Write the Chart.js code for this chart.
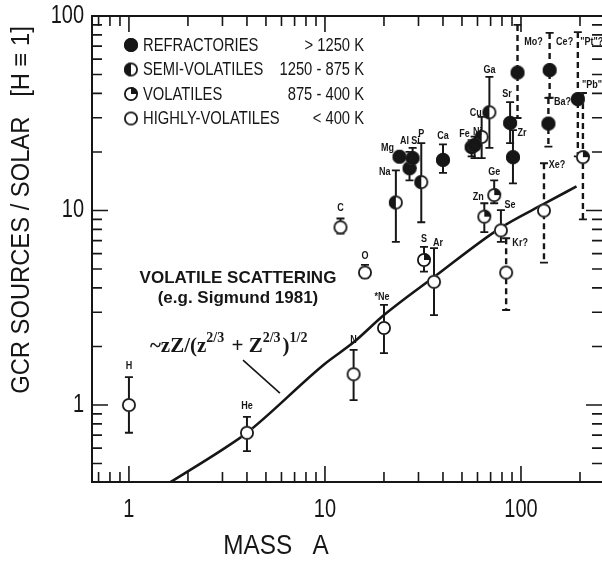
<!DOCTYPE html>
<html>
<head>
<meta charset="utf-8">
<script src="https://cdn.jsdelivr.net/npm/chart.js@4.4.0/dist/chart.umd.min.js"></script>
<style>
  html, body { margin: 0; padding: 0; background: #fff; }
  #wrap { width: 602px; height: 561px; }
</style>
</head>
<body>
<div id="wrap"><canvas id="chart"></canvas></div>
<script>
// element abundances, GCR sources / solar (H = 1)
const elements = ['H', 'He', 'C', 'N', 'O', '*Ne', 'Na', 'Mg', 'Al', 'Si', 'P', 'S', 'Ar', 'Ca', 'Fe', 'Ni',
                  'Cu', 'Zn', 'Ga', 'Ge', 'Se', 'Kr?', 'Sr', 'Zr', 'Mo?', 'Xe?', 'Ba?', 'Ce?', '"Pt"?', '"Pb"'];
const mass     = [1, 4, 12, 14, 16, 20, 23, 24, 27, 28, 31, 32, 36, 40, 56, 58,
                  63, 65, 69, 73, 79, 84, 88, 91, 96, 131, 138, 140, 195, 207];
const ratio    = [1.0, 0.72, 8.2, 1.44, 4.8, 2.49, 11.0, 18.9, 16.5, 18.6, 14.0, 5.57, 4.3, 18.2, 21.2, 21.7,
                  23.9, 9.3, 32, 12.0, 7.9, 4.8, 28.2, 18.8, 51.2, 10.0, 28.0, 52.7, 37.4, 18.8];
const errLow   = [0.72, 0.58, 7.6, 1.06, 4.5, 1.85, 6.9, null, 14.3, 16.5, 8.7, 4.85, 2.9, 15.6, 19.0, 18.6,
                  18.6, 7.75, 21.0, 10.9, 6.9, 3.08, 22.2, 13.8, 29.9, 5.4, 21.3, 38.0, 19.0, 9.0];
const errHigh  = [1.39, 0.87, 9.1, 1.92, 5.25, 3.27, 16.1, null, 20.0, 21.0, 22.2, 6.5, 6.4, 21.9, 23.0, 24.0,
                  30.3, 10.9, 48.6, 14.3, 10.05, 7.2, 36.1, 25.9, 90, 17.5, 37.9, 81.8, 82.7, 40.2];
// 0 refractory, 1 semi-volatile, 2 volatile, 3 highly volatile
const volClass = [3, 3, 3, 3, 3, 3, 1, 0, 0, 0, 1, 2, 3, 0, 0, 0,
                  1, 2, 1, 2, 3, 3, 0, 0, 0, 3, 0, 0, 0, 2];
const uncertain = ['Kr?', 'Mo?', 'Xe?', 'Ba?', 'Ce?', '"Pt"?', '"Pb"'];

const classNames  = ['REFRACTORIES', 'SEMI-VOLATILES', 'VOLATILES', 'HIGHLY-VOLATILES'];
const classRanges = ['> 1250 K', '1250 - 875 K', '875 - 400 K', '< 400 K'];

// volatile scattering curve
const curveMass  = [1.62, 3, 4, 10, 14, 20, 36, 78, 133, 192];
const curveRatio = [0.40, 0.59, 0.72, 1.63, 2.1, 2.9, 4.55, 8.1, 10.9, 13.3];

// axes
const xMin = 0.648, xMax = 259;
const yMin = 0.402, yMax = 100;
const xMajor = [1, 10, 100];
const xMinor = [0.7, 0.8, 0.9, 2, 3, 4, 5, 6, 7, 8, 9, 20, 30, 40, 50, 60, 70, 80, 90, 200];
const yMajor = [1, 10, 100];
const yMinor = [0.5, 0.6, 0.7, 0.8, 0.9, 2, 3, 4, 5, 6, 7, 8, 9, 20, 30, 40, 50, 60, 70, 80, 90];
const xTickLabels = ['1', '10', '100'];
const yTickLabels = ['1', '10', '100'];

// label offsets from the top of each error bar (pixels)
const labelShift = {
  'H': [0, -11], 'He': [0, -11], 'C': [0, -11], 'N': [0, -10], 'O': [0, -9], '*Ne': [-2, -8],
  'Na': [-11, 2], 'Mg': [-12, -9], 'Al': [-5, -11], 'Si': [3, -7], 'P': [0, -9], 'S': [0, -8],
  'Ar': [4, -5], 'Ca': [0, -8], 'Fe': [-7, -6], 'Ni': [3, -5], 'Cu': [-6, -4], 'Zn': [-6, -6],
  'Ga': [0, -7], 'Ge': [0, -8], 'Se': [9, -5], 'Kr?': [14, 5], 'Sr': [-3, -8], 'Zr': [9, 3],
  'Mo?': [16, 17], 'Xe?': [13, 2], 'Ba?': [14, 4], 'Ce?': [15, 9], '"Pt"?': [14, 10], '"Pb"': [9, -8]
};

const INK = '#161616';
const SANS = '"Liberation Sans", Arial, sans-serif';
const SERIF = '"Liberation Serif", "Times New Roman", serif';

// text squeezed sideways, the scan uses a narrow Helvetica
function narrowText(ctx, text, x, y, font, align, sx) {
  ctx.save();
  ctx.font = font;
  ctx.textAlign = align;
  ctx.translate(x, y);
  ctx.scale(sx, 1);
  ctx.fillText(text, 0, 0);
  ctx.restore();
}

function makeMarker(kind) {
  const s = 18, r = 7, c = document.createElement('canvas');
  c.width = s; c.height = s;
  const g = c.getContext('2d');
  const cx = s / 2, cy = s / 2;
  g.beginPath(); g.arc(cx, cy, r, 0, Math.PI * 2); g.fillStyle = '#fff'; g.fill();
  g.fillStyle = INK;
  g.beginPath();
  if (kind === 0) g.arc(cx, cy, r, 0, Math.PI * 2);
  if (kind === 1) { g.moveTo(cx, cy); g.arc(cx, cy, r, Math.PI / 2, Math.PI * 1.5); g.closePath(); }
  if (kind === 2) { g.moveTo(cx, cy); g.arc(cx, cy, r, -Math.PI / 2, 0); g.closePath(); }
  g.fill();
  g.beginPath(); g.arc(cx, cy, r - 0.9, 0, Math.PI * 2);
  g.lineWidth = 1.8; g.strokeStyle = INK; g.stroke();
  return c;
}
const markers = [0, 1, 2, 3].map(makeMarker);

// error bars, under the markers
const errorBars = {
  id: 'errorBars',
  beforeDatasetsDraw(chart) {
    const { ctx, chartArea: a, scales: { x, y } } = chart;
    ctx.save();
    ctx.beginPath(); ctx.rect(a.left, a.top, a.right - a.left, a.bottom - a.top); ctx.clip();
    ctx.strokeStyle = INK;
    elements.forEach((el, i) => {
      if (errLow[i] == null) return;
      const px = x.getPixelForValue(mass[i]);
      const yt = y.getPixelForValue(errHigh[i]);
      const yb = y.getPixelForValue(errLow[i]);
      const dashed = uncertain.includes(el);
      ctx.lineWidth = dashed ? 2.4 : 2;
      ctx.setLineDash(dashed ? [6, 4] : []);
      ctx.beginPath(); ctx.moveTo(px, yt); ctx.lineTo(px, yb); ctx.stroke();
      ctx.setLineDash([]);
      ctx.lineWidth = 1.8;
      ctx.beginPath();
      ctx.moveTo(px - 4, yt); ctx.lineTo(px + 4, yt);
      ctx.moveTo(px - 4, yb); ctx.lineTo(px + 4, yb);
      ctx.stroke();
    });
    ctx.restore();
  }
};

// element names, legend, frame, ticks and notes
const decorations = {
  id: 'decorations',
  afterDraw(chart) {
    const { ctx, chartArea: a, scales: { x, y } } = chart;
    ctx.save();
    ctx.fillStyle = INK;
    ctx.strokeStyle = INK;
    ctx.textBaseline = 'middle';

    // element labels
    elements.forEach((el, i) => {
      const anchor = errHigh[i] != null ? errHigh[i] : ratio[i];
      const sh = labelShift[el] || [0, -9];
      narrowText(ctx, el, x.getPixelForValue(mass[i]) + sh[0], y.getPixelForValue(anchor) + sh[1],
                 'bold 11px ' + SANS, 'center', 0.82);
    });

    // frame
    ctx.lineWidth = 2;
    ctx.beginPath();
    ctx.moveTo(a.right + 4, a.top); ctx.lineTo(a.left, a.top);
    ctx.lineTo(a.left, a.bottom); ctx.lineTo(a.right + 4, a.bottom);
    ctx.stroke();

    // inward ticks on all sides
    ctx.lineWidth = 1.6;
    ctx.beginPath();
    const xt = (v, len) => {
      const px = x.getPixelForValue(v);
      if (px < a.left || px > a.right) return;
      ctx.moveTo(px, a.bottom); ctx.lineTo(px, a.bottom - len);
      ctx.moveTo(px, a.top); ctx.lineTo(px, a.top + len);
    };
    const yt = (v, len) => {
      const py = y.getPixelForValue(v);
      if (py < a.top || py > a.bottom) return;
      ctx.moveTo(a.left, py); ctx.lineTo(a.left + len, py);
      ctx.moveTo(a.right, py); ctx.lineTo(a.right - len, py);
    };
    xMajor.forEach(v => xt(v, 16));
    xMinor.forEach(v => xt(v, 10));
    yMajor.forEach(v => yt(v, 16));
    yMinor.forEach(v => yt(v, 10));
    ctx.stroke();

    // tick labels
    xMajor.forEach((v, k) => narrowText(ctx, xTickLabels[k], x.getPixelForValue(v), a.bottom + 28,
                                        '25px ' + SANS, 'center', 0.8));
    yMajor.forEach((v, k) => narrowText(ctx, yTickLabels[k], a.left - 8, y.getPixelForValue(v),
                                        '25px ' + SANS, 'right', 0.8));

    // legend
    const lx = 131, ly = 45, lstep = 24.5;
    classNames.forEach((name, k) => {
      const yy = ly + k * lstep;
      ctx.drawImage(markers[k], lx - 9, yy - 9);
      narrowText(ctx, name, lx + 12, yy + 1, '18px ' + SANS, 'left', 0.82);
      narrowText(ctx, classRanges[k], 364, yy + 1, '18px ' + SANS, 'right', 0.82);
    });

    // note on the curve
    ctx.textAlign = 'center';
    ctx.font = 'bold 17px ' + SANS;
    const nx = x.getPixelForValue(3.6);
    ctx.fillText('VOLATILE SCATTERING', nx, y.getPixelForValue(4.5));
    ctx.fillText('(e.g. Sigmund 1981)', nx, y.getPixelForValue(3.55));

    // formula
    const parts = [['~zZ/(z', 0], ['2/3', 1], [' + Z', 0], ['2/3', 1], [')', 0], ['1/2', 1]];
    let fx = x.getPixelForValue(1.28);
    const fy = y.getPixelForValue(1.87);
    ctx.textAlign = 'left';
    ctx.textBaseline = 'alphabetic';
    parts.forEach(([t, sup]) => {
      ctx.font = sup ? 'bold 14px ' + SERIF : 'bold 21px ' + SERIF;
      ctx.fillText(t, fx, sup ? fy - 10 : fy);
      fx += ctx.measureText(t).width + (sup ? 2 : 0);
    });

    // pointer from formula to curve
    ctx.lineWidth = 1.6;
    ctx.beginPath();
    ctx.moveTo(x.getPixelForValue(3.82), y.getPixelForValue(1.70));
    ctx.lineTo(x.getPixelForValue(5.89), y.getPixelForValue(1.15));
    ctx.stroke();

    // axis titles
    ctx.textBaseline = 'middle';
    ctx.save();
    ctx.translate(22, 210);
    ctx.rotate(-Math.PI / 2);
    narrowText(ctx, 'GCR SOURCES / SOLAR   [H \u2261 1]', 0, 0, '25px ' + SANS, 'center', 0.95);
    ctx.restore();
    narrowText(ctx, 'MASS   A', 276, 547, '27px ' + SANS, 'center', 0.9);
    ctx.restore();
  }
};

const datasets = classNames.map((name, k) => ({
  type: 'scatter',
  label: name,
  data: mass.map((m, i) => ({ x: m, y: ratio[i] })).filter((_, i) => volClass[i] === k),
  pointStyle: markers[k],
  pointRadius: 7,
  order: 1
}));
datasets.push({
  type: 'line',
  label: 'volatile scattering',
  data: curveMass.map((m, i) => ({ x: m, y: curveRatio[i] })),
  borderColor: INK,
  borderWidth: 2.6,
  pointRadius: 0,
  fill: false,
  cubicInterpolationMode: 'monotone',
  order: 2
});

new Chart(document.getElementById('chart'), {
  type: 'scatter',
  data: { datasets },
  plugins: [errorBars, decorations],
  options: {
    responsive: true,
    maintainAspectRatio: false,
    animation: false,
    layout: { autoPadding: false, padding: { top: 16, right: 0, left: 0, bottom: 0 } },
    plugins: { legend: { display: false }, tooltip: { enabled: false } },
    scales: {
      x: {
        type: 'logarithmic', min: xMin, max: xMax, bounds: 'data',
        afterFit: s => { s.height = 79; },
        grid: { display: false }, border: { display: false },
        ticks: { display: false }
      },
      y: {
        type: 'logarithmic', min: yMin, max: yMax, bounds: 'data',
        afterFit: s => { s.width = 92; },
        grid: { display: false }, border: { display: false },
        ticks: { display: false }
      }
    }
  }
});
</script>
</body>
</html>
